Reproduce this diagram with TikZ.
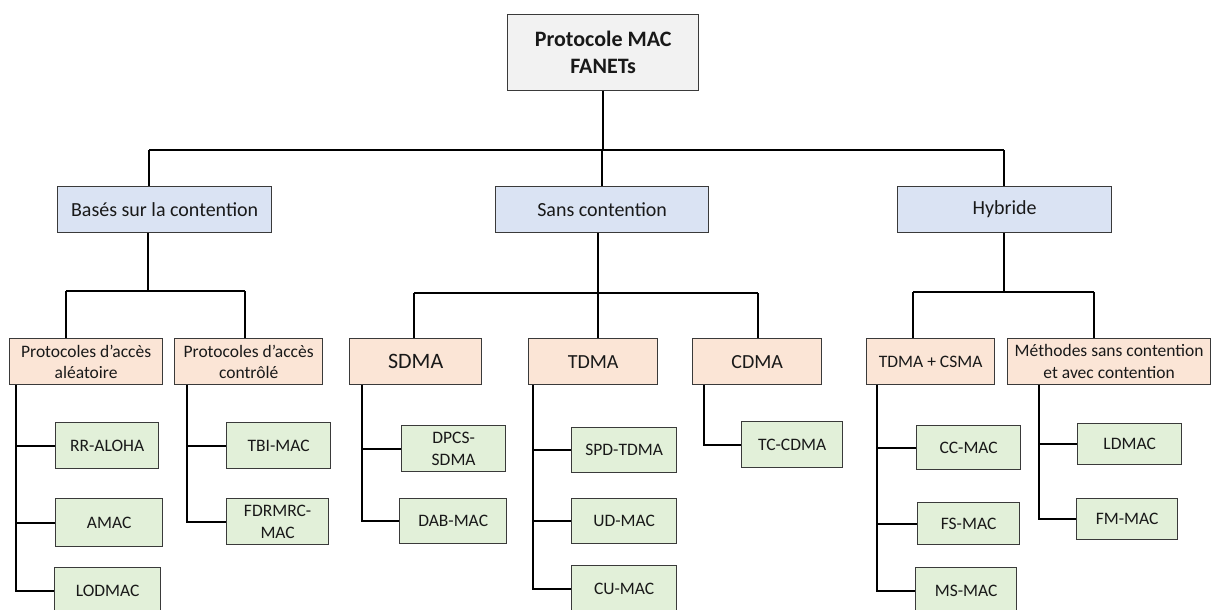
\documentclass[tikz,border=0pt]{standalone}
\usepackage{fontspec}
\setmainfont{Carlito}
\definecolor{rootfill}{HTML}{F2F2F2}
\definecolor{catfill}{HTML}{DAE3F3}
\definecolor{subfill}{HTML}{FBE5D6}
\definecolor{leaffill}{HTML}{E2F0D9}
\definecolor{edge}{HTML}{3A3A3A}
\begin{document}
\begin{tikzpicture}[x=1pt,y=-1pt,
  box/.style={draw=edge, line width=1.3pt, inner sep=0pt, align=center,
    anchor=north west, text=black!90, font=\fontsize{17.5}{21.5}\selectfont},
  rootbox/.style={box, fill=rootfill, font=\fontsize{22}{27}\selectfont\bfseries},
  catbox/.style={box, fill=catfill, minimum width=214pt, minimum height=46pt,
    font=\fontsize{20}{24}\selectfont},
  subbox/.style={box, fill=subfill, minimum height=46pt},
  leafbox/.style={box, fill=leaffill},
  link/.style={line width=1.7pt, black}]
\useasboundingbox (0,0) rectangle (1212,610);

% ---------- root ----------
\node[rootbox, minimum width=191pt, minimum height=76pt] (root) at (507,14) {Protocole MAC\\FANETs};

% ---------- families ----------
\node[catbox] (contention) at (57,186)  {Basés sur la contention};
\node[catbox, minimum width=213pt] (sanscont) at (495,186) {Sans contention};
\node[catbox] (hybride)    at (897,186) {Hybride};

% ---------- sub-families ----------
\node[subbox, minimum width=153pt] (aleatoire) at (9,338)    {Protocoles d’accès\\aléatoire};
\node[subbox, minimum width=148pt] (controle)  at (174,338)  {Protocoles d’accès\\contrôlé};
\node[subbox, minimum width=132pt, font=\fontsize{22}{26}\selectfont] (sdma) at (349,338) {SDMA};
\node[subbox, minimum width=129pt, font=\fontsize{20}{24}\selectfont] (tdma) at (528,338) {TDMA};
\node[subbox, minimum width=129pt, font=\fontsize{20}{24}\selectfont] (cdma) at (692,338) {CDMA};
\node[subbox, minimum width=128pt] (tdmacsma) at (866,338)  {TDMA + CSMA};
\node[subbox, minimum width=203pt] (mixte)    at (1007,338) {Méthodes sans contention\\et avec contention};

% ---------- protocols ----------
\node[leafbox, minimum width=103pt, minimum height=46pt] (rraloha) at (55,422)  {RR-ALOHA};
\node[leafbox, minimum width=107pt, minimum height=48pt] (amac)    at (55,498)  {AMAC};
\node[leafbox, minimum width=106pt, minimum height=46pt] (lodmac)  at (54,567)  {LODMAC};
\node[leafbox, minimum width=104pt, minimum height=46pt] (tbimac)  at (226,422) {TBI-MAC};
\node[leafbox, minimum width=102pt, minimum height=46pt] (fdrmrc)  at (226,498) {FDRMRC-\\MAC};
\node[leafbox, minimum width=104pt, minimum height=46pt] (dpcs)    at (401,425) {DPCS-\\SDMA};
\node[leafbox, minimum width=107pt, minimum height=45pt] (dabmac)  at (399,498) {DAB-MAC};
\node[leafbox, minimum width=105pt, minimum height=45pt] (spdtdma) at (571,427) {SPD-TDMA};
\node[leafbox, minimum width=105pt, minimum height=45pt] (udmac)   at (571,498) {UD-MAC};
\node[leafbox, minimum width=105pt, minimum height=46pt] (cumac)   at (571,565) {CU-MAC};
\node[leafbox, minimum width=101pt, minimum height=46pt] (tccdma)  at (741,421) {TC-CDMA};
\node[leafbox, minimum width=104pt, minimum height=44pt] (ccmac)   at (916,425) {CC-MAC};
\node[leafbox, minimum width=102pt, minimum height=42pt] (fsmac)   at (917,502) {FS-MAC};
\node[leafbox, minimum width=101pt, minimum height=46pt] (msmac)   at (915,567) {MS-MAC};
\node[leafbox, minimum width=104pt, minimum height=41pt] (ldmac)   at (1077,423) {LDMAC};
\node[leafbox, minimum width=101pt, minimum height=41pt] (fmmac)   at (1076,498) {FM-MAC};

% ---------- root to families ----------
\coordinate (busL) at (149,150);
\coordinate (busR) at (1004,150);
\draw[link] (root.south) -- (root.south |- busL);
\draw[link] (busL) -- (busR);
\draw[link] (busL) -- (busL |- contention.north);
\draw[link] (sanscont.north |- busL) -- (sanscont.north);
\draw[link] (busR) -- (busR |- hybride.north);

% ---------- families to sub-families ----------
\coordinate (c1) at (148,291);
\coordinate (c1L) at (66,291);
\coordinate (c1R) at (245,291);
\draw[link] (c1 |- contention.south) -- (c1);
\draw[link] (c1L) -- (c1R);
\draw[link] (c1L) -- (c1L |- aleatoire.north);
\draw[link] (c1R) -- (c1R |- controle.north);

\coordinate (c2) at (598,293);
\coordinate (c2L) at (414,293);
\coordinate (c2R) at (758,293);
\draw[link] (c2 |- sanscont.south) -- (c2);
\draw[link] (c2L) -- (c2R);
\draw[link] (c2L) -- (c2L |- sdma.north);
\draw[link] (c2) -- (c2 |- tdma.north);
\draw[link] (c2R) -- (c2R |- cdma.north);

\coordinate (c3) at (1004,292);
\coordinate (c3L) at (913,292);
\coordinate (c3R) at (1094,292);
\draw[link] (c3 |- hybride.south) -- (c3);
\draw[link] (c3L) -- (c3R);
\draw[link] (c3L) -- (c3L |- tdmacsma.north);
\draw[link] (c3R) -- (c3R |- mixte.north);

% ---------- sub-families to protocols ----------
\coordinate (t1) at (16,0);
\draw[link] (t1 |- aleatoire.south) |- (lodmac.west);
\draw[link] (t1 |- rraloha.west) -- (rraloha.west);
\draw[link] (t1 |- amac.west) -- (amac.west);

\coordinate (t2) at (187,0);
\draw[link] (t2 |- controle.south) |- (fdrmrc.west);
\draw[link] (t2 |- tbimac.west) -- (tbimac.west);

\coordinate (t3) at (362,0);
\draw[link] (t3 |- sdma.south) |- (dabmac.west);
\draw[link] (t3 |- dpcs.west) -- (dpcs.west);

\coordinate (t4) at (533,0);
\draw[link] (t4 |- tdma.south) |- (cumac.west);
\draw[link] (t4 |- spdtdma.west) -- (spdtdma.west);
\draw[link] (t4 |- udmac.west) -- (udmac.west);

\coordinate (t5) at (704,0);
\draw[link] (t5 |- cdma.south) |- (tccdma.west);

\coordinate (t6) at (877,0);
\draw[link] (t6 |- tdmacsma.south) |- (msmac.west);
\draw[link] (t6 |- ccmac.west) -- (ccmac.west);
\draw[link] (t6 |- fsmac.west) -- (fsmac.west);

\coordinate (t7) at (1039,0);
\draw[link] (t7 |- mixte.south) |- (fmmac.west);
\draw[link] (t7 |- ldmac.west) -- (ldmac.west);
\end{tikzpicture}
\end{document}
